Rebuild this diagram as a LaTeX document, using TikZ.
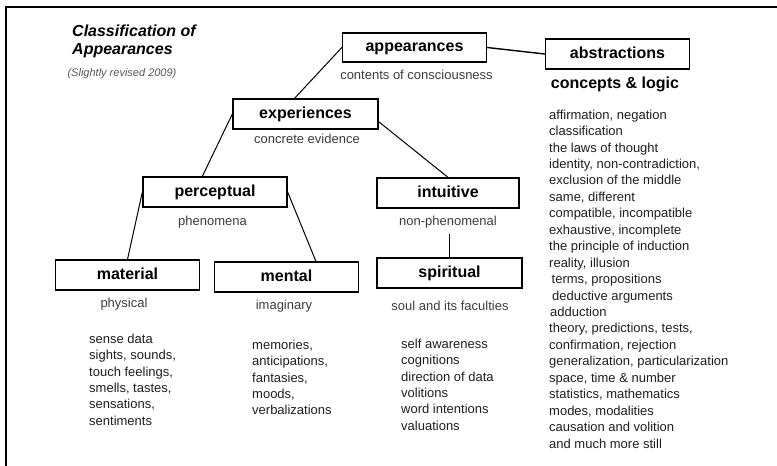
\documentclass[tikz,border=0pt]{standalone}
\usepackage{fontspec}
\setmainfont{Liberation Sans}

\definecolor{inkgray}{HTML}{1E1E1E}
\definecolor{subgray}{HTML}{3C3C3C}
\definecolor{notegray}{HTML}{555555}

\tikzset{
  catbox/.style={draw, line width=1.3pt, inner sep=0pt, minimum width=144pt, minimum height=30pt,
    font=\fontsize{16}{19}\selectfont\bfseries, text height=11.5pt, text depth=3.5pt},
  sublabel/.style={inner sep=0pt, font=\fontsize{13}{16.4}\selectfont, text=subgray,
    text height=9.5pt, text depth=2.7pt},
  itemlist/.style={inner sep=0pt, align=left, anchor=north west,
    font=\fontsize{13}{16.45}\selectfont, text=inkgray},
  link/.style={line width=1pt}
}

\begin{document}
\begin{tikzpicture}[x=1pt,y=-1pt]
        \useasboundingbox (0,0) rectangle (777,466);

        % Frame along the top and the left
        \draw[line width=2pt] (5.5,466) -- (5.5,7.3) -- (777,7.3);

        % Title
        \node[inner sep=0pt, anchor=north west, align=left,
              font=\fontsize{16}{17.7}\selectfont\bfseries\itshape] (title) at (72,25)
              {Classification of\\Appearances};
        \node[inner sep=0pt, font=\fontsize{11}{13}\selectfont\itshape, text=notegray] (revised)
              at (122,74) {(Slightly revised 2009)};

        % The boxes
        \node[catbox, minimum height=29pt] (appearances) at (414.5,47.5) {appearances};
        \node[catbox] (abstractions) at (617.5,54) {abstractions};
        \node[catbox, minimum width=145pt] (experiences) at (305.5,114) {experiences};
        \node[catbox] (perceptual) at (215,192) {perceptual};
        \node[catbox, minimum width=142pt] (intuitive) at (448,193) {intuitive};
        \node[catbox] (material) at (127.5,275) {material};
        \node[catbox] (mental) at (286.5,277) {mental};
        \node[catbox, minimum width=145pt] (spiritual) at (449.5,273) {spiritual};

        % Lines under the boxes
        \node[sublabel] (appearances-sub) at (416.5,76.5) {contents of consciousness};
        \node[sublabel, font=\fontsize{16}{19}\selectfont\bfseries, text=black,
              text height=11.5pt, text depth=3.5pt] (abstractions-sub) at (615,84) {concepts \& logic};
        \node[sublabel] (experiences-sub) at (307,140) {concrete evidence};
        \node[sublabel] (perceptual-sub) at (212.5,222.5) {phenomena};
        \node[sublabel] (intuitive-sub) at (448,222.5) {non-phenomenal};
        \node[sublabel] (material-sub) at (124,304.5) {physical};
        \node[sublabel] (mental-sub) at (284,306.5) {imaginary};
        \node[sublabel] (spiritual-sub) at (450,307.5) {soul and its faculties};

        % Connectors
        \draw[link, line width=1.4pt] (appearances.east) -- (abstractions.west);
        \draw[link] (appearances.west) -- (experiences.125);
        \draw[link] (experiences.west) -- (perceptual.129);
        \draw[link] (experiences.354) -- (intuitive.north);
        \draw[link] (perceptual.west) -- (material.north);
        \draw[link] (perceptual.east) -- (mental.28);
        \draw[link, shorten <=5pt] (spiritual.north |- intuitive-sub.south) -- (spiritual.north);

        % Lists of contents
        \node[itemlist] (material-list) at (89,333.5)
              {sense data\\sights, sounds,\\touch feelings,\\smells, tastes,\\sensations,\\sentiments};
        \node[itemlist] (mental-list) at (252,339.5)
              {memories,\\anticipations,\\fantasies,\\moods,\\verbalizations};
        \node[itemlist] (spiritual-list) at (401,338.5)
              {self awareness\\cognitions\\direction of data\\volitions\\word intentions\\valuations};
        \node[itemlist] (abstractions-list) at (549,109.5)
              {affirmation, negation\\classification\\the laws of thought\\identity, non-contradiction,\\
               exclusion of the middle\\same, different\\compatible, incompatible\\exhaustive, incomplete\\
               the principle of induction\\reality, illusion\\\hspace*{2.5pt}terms, propositions\\
               \hspace*{3pt}deductive arguments\\\hspace*{1pt}adduction\\theory, predictions, tests,\\
               confirmation, rejection\\generalization, particularization\\space, time \& number\\
               statistics, mathematics\\modes, modalities\\causation and volition\\and much more still};
    \end{tikzpicture}
\end{document}
